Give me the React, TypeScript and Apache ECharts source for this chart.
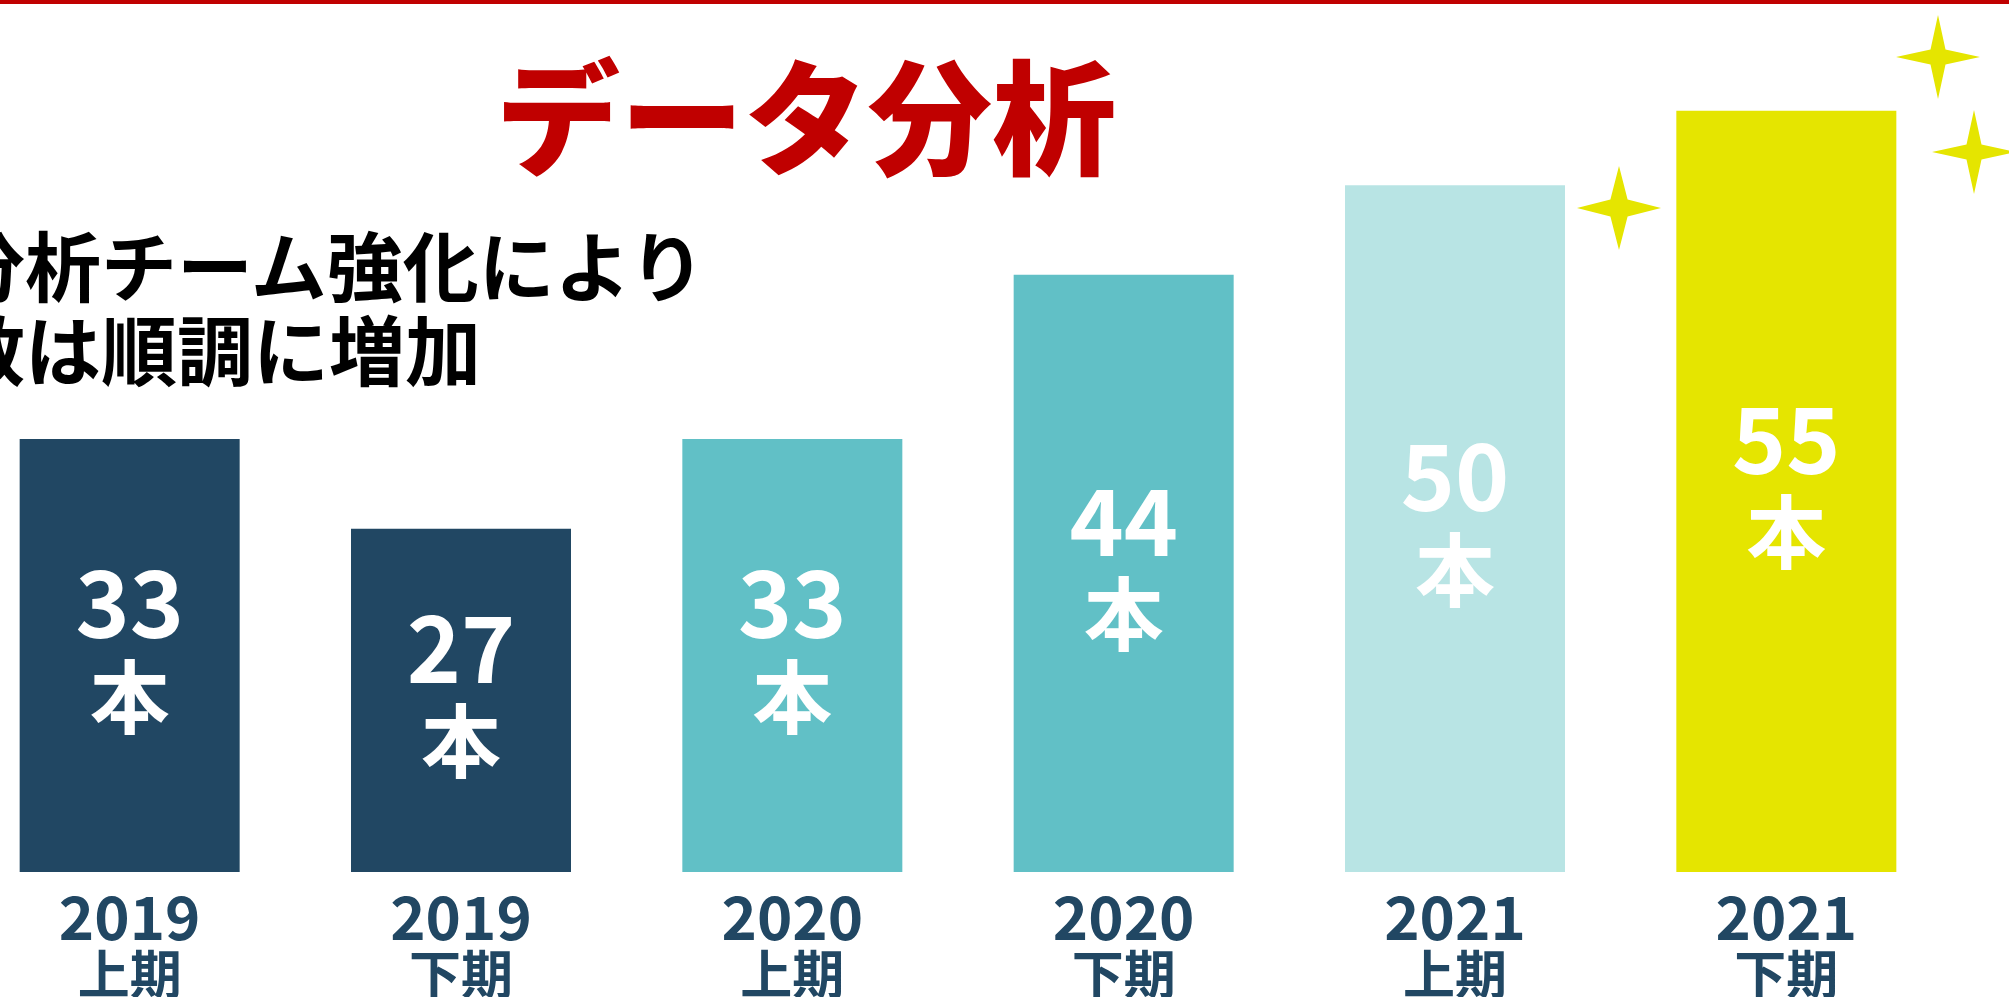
import React, { useEffect, useRef } from "react";
import * as echarts from "echarts";

const years = ["2019", "2019", "2020", "2020", "2021", "2021"];
const halves = ["上期", "下期", "上期", "下期", "上期", "下期"];
const values = [33, 27, 33, 44, 50, 55];
const barColors = ["#214763", "#214763", "#61C0C6", "#61C0C6", "#B8E4E4", "#E5E500"];
const unitLabel = "本";
const titleText = "データ分析";
const subtitleLines = ["分析チーム強化により", "数は順調に増加"];

const FONT = '"Noto Sans CJK JP", "Noto Sans", sans-serif';
const NAVY = "#214763";
const RED = "#C00000";
const STAR = "#E5E500";
// the chart's div starts this far left of the page, so that the first bar can sit near the page edge
const SHIFT = 40;

function starPoints(cx: number, cy: number, r: number, w: number) {
  return [
    [cx, cy - r],
    [cx + w, cy - w],
    [cx + r, cy],
    [cx + w, cy + w],
    [cx, cy + r],
    [cx - w, cy + w],
    [cx - r, cy],
    [cx - w, cy - w],
  ];
}

export default function App() {
  const ref = useRef<HTMLDivElement>(null);
  useEffect(() => {
    if (!ref.current) return;
    const chart = echarts.init(ref.current, undefined, { renderer: "svg" });
    const categories = years.map((y, i) => `${y}\n${halves[i]}`);
    chart.setOption({
      animation: false,
      backgroundColor: "#ffffff",
      grid: { left: SHIFT - 36, right: 57, top: 36, bottom: 119, containLabel: false },
      xAxis: {
        type: "category",
        data: categories,
        axisLine: { show: false },
        axisTick: { show: false },
        splitLine: { show: false },
        axisLabel: {
          margin: 12,
          interval: 0,
          formatter: (v: string) => {
            const [y, h] = v.split("\n");
            return `{y|${y}}\n{p|${h}}`;
          },
          rich: {
            y: { fontSize: 60, lineHeight: 58, fontWeight: "bold", color: NAVY, fontFamily: FONT },
            p: { fontSize: 52, lineHeight: 58, fontWeight: "bold", color: NAVY, fontFamily: FONT },
          },
        },
      },
      yAxis: {
        type: "value",
        min: 4,
        max: 60,
        show: false,
        splitLine: { show: false },
      },
      series: [
        {
          type: "bar",
          barWidth: 220,
          data: values.map((v, i) => ({ value: v, itemStyle: { color: barColors[i] } })),
          label: {
            show: true,
            position: "inside",
            offset: [0, -12],
            formatter: (p: any) => `{n|${p.value}}\n{u|${unitLabel}}`,
            rich: {
              n: { fontSize: 92, lineHeight: 96, fontWeight: "bold", color: "#ffffff", fontFamily: FONT },
              u: { fontSize: 80, lineHeight: 92, fontWeight: "bold", color: "#ffffff", fontFamily: FONT },
            },
          },
        },
      ],
      graphic: [
        { type: "rect", shape: { x: SHIFT, y: 0, width: 2009, height: 4 }, style: { fill: RED } },
        {
          type: "text",
          x: SHIFT + 806,
          y: 111,
          style: {
            text: titleText,
            fontSize: 124,
            fontWeight: 900,
            fontFamily: FONT,
            fill: RED,
            textAlign: "center",
            textVerticalAlign: "middle",
          },
        },
        {
          type: "text",
          x: SHIFT - 51,
          y: 263,
          style: {
            text: subtitleLines[0],
            fontSize: 76,
            fontWeight: "bold",
            fontFamily: FONT,
            fill: "#000000",
            textAlign: "left",
            textVerticalAlign: "middle",
          },
        },
        {
          type: "text",
          x: SHIFT - 51,
          y: 347,
          style: {
            text: subtitleLines[1],
            fontSize: 76,
            fontWeight: "bold",
            fontFamily: FONT,
            fill: "#000000",
            textAlign: "left",
            textVerticalAlign: "middle",
          },
        },
        { type: "polygon", shape: { points: starPoints(SHIFT + 1619, 208, 42, 8.6) }, style: { fill: STAR } },
        { type: "polygon", shape: { points: starPoints(SHIFT + 1938, 57, 42, 7.5) }, style: { fill: STAR } },
        { type: "polygon", shape: { points: starPoints(SHIFT + 1974, 152, 42, 7.5) }, style: { fill: STAR } },
      ],
    });
    return () => chart.dispose();
  }, []);
  return (
    <div
      ref={ref}
      style={{ position: "absolute", left: -SHIFT, top: 0, width: 2009 + SHIFT, height: 997 }}
    />
  );
}
